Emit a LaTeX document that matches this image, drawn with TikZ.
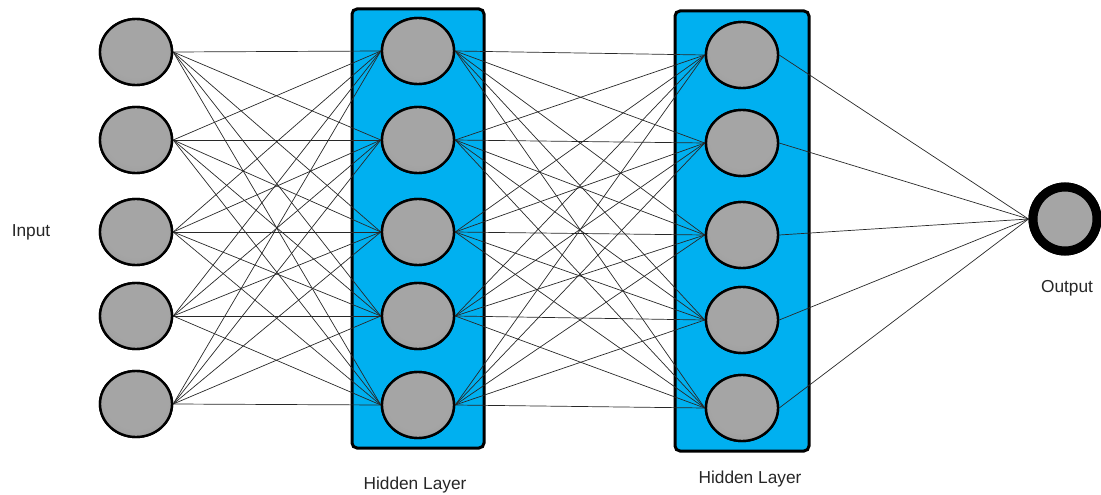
\documentclass[tikz,border=0pt]{standalone}
\usepackage{fontspec}
\setmainfont{Liberation Sans}
\usetikzlibrary{shapes.geometric}

\definecolor{layerblue}{RGB}{0,176,240}
\definecolor{ngA}{RGB}{165,165,165}
\definecolor{ngB}{RGB}{152,152,152}
\definecolor{ngC}{RGB}{110,110,110}
\definecolor{wire}{RGB}{40,40,40}
\pgfdeclareradialshading{nodeball}{\pgfpoint{0bp}{6bp}}{%
  color(0bp)=(ngA); color(22bp)=(ngA); color(38bp)=(ngB); color(50bp)=(ngC)}

\tikzset{
  neuron/.style={ellipse, minimum width=72pt, minimum height=66pt, inner sep=0pt,
    shading=nodeball, draw=black, line width=2.4pt},
  outneuron/.style={circle, minimum size=64pt, inner sep=0pt,
    shading=nodeball, draw=black, line width=9pt},
  layerbox/.style={fill=layerblue, draw=black, line width=3pt, rounded corners=5pt},
  edge/.style={draw=wire, line width=0.7pt},
  caption/.style={font=\fontsize{17.3pt}{20pt}\selectfont, text=black!85}
}

\begin{document}
\begin{tikzpicture}[x=1pt, y=-1pt]
  \useasboundingbox (0,0) rectangle (1101,495);

  % layer frames
  \draw[layerbox] (352,9) rectangle (484,448);
  \draw[layerbox] (675,11) rectangle (809,451);

  % neurons (named, so the wires can refer to them)
  \foreach \i/\y in {1/52,2/140,3/232,4/316,5/404}
    \node[neuron] (in\i) at (136,\y) {};
  \foreach \i/\y in {1/51,2/140,3/232,4/316,5/405}
    \node[neuron] (ha\i) at (418,\y) {};
  \foreach \i/\y in {1/55,2/143,3/235,4/320,5/408}
    \node[neuron] (hb\i) at (742,\y) {};
  \node[outneuron] (out) at (1065,219) {};

  % fully connected wiring
  \foreach \i in {1,...,5}{
    \foreach \j in {1,...,5}{
      \draw[edge] (in\i.east) -- (ha\j.west);
      \draw[edge] (ha\i.east) -- (hb\j.west);
    }
    \draw[edge] (hb\i.east) -- (out.west);
  }

  % neurons again, on top of the wires
  \foreach \i/\y in {1/52,2/140,3/232,4/316,5/404}
    \node[neuron] at (136,\y) {};
  \foreach \i/\y in {1/51,2/140,3/232,4/316,5/405}
    \node[neuron] at (418,\y) {};
  \foreach \i/\y in {1/55,2/143,3/235,4/320,5/408}
    \node[neuron] at (742,\y) {};
  \node[outneuron] at (1065,219) {};

  % labels
  \node[caption] (lin) at (31,232) {Input};
  \node[caption] (lha) at (415,485) {Hidden Layer};
  \node[caption] (lhb) at (750,479) {Hidden Layer};
  \node[caption] (lout) at (1067,288) {Output};
\end{tikzpicture}
\end{document}
